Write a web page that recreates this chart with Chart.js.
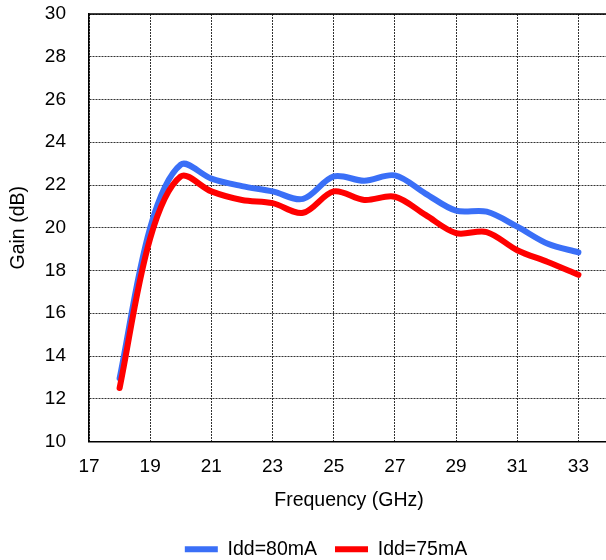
<!DOCTYPE html>
<html>
<head>
<meta charset="utf-8">
<script src="https://cdn.jsdelivr.net/npm/chart.js@4/dist/chart.umd.min.js"></script>
<style>
  html, body { margin: 0; padding: 0; background: #fff; overflow: hidden; }
  #wrap { position: absolute; left: 0; top: 0; width: 652px; height: 560px; }
</style>
</head>
<body>
<div id="wrap"><canvas id="chart" width="652" height="560"></canvas></div>
<script>
// datos
const freq = [18, 19, 20, 21, 22, 23, 24, 25, 26, 27, 28, 29, 30, 31, 32, 33];
const idd80 = [12.95, 20.0, 22.95, 22.3, 21.95, 21.7, 21.35, 22.4, 22.2, 22.45, 21.6, 20.8, 20.75, 20.05, 19.25, 18.85];
const idd75 = [12.5, 19.5, 22.4, 21.7, 21.3, 21.15, 20.7, 21.7, 21.3, 21.45, 20.6, 19.75, 19.8, 18.95, 18.4, 17.8];
const xTicks = [17, 19, 21, 23, 25, 27, 29, 31, 33];
const yTicks = [10, 12, 14, 16, 18, 20, 22, 24, 26, 28, 30];

const family = "'Liberation Sans', Arial, sans-serif";
const tickFont = { family: family, size: 19 };
const titleFont = { family: family, size: 19.5 };

// linea superior solida del area de la grafica
const topBorder = {
  id: "topBorder",
  beforeDatasetsDraw(chart) {
    const { ctx, chartArea } = chart;
    ctx.save();
    ctx.strokeStyle = "#000";
    ctx.lineWidth = 1.5;
    ctx.beginPath();
    ctx.moveTo(chartArea.left, chartArea.top);
    ctx.lineTo(chartArea.right, chartArea.top);
    ctx.stroke();
    ctx.restore();
  },
};

new Chart(document.getElementById("chart"), {
  type: "line",
  data: {
    datasets: [
      {
        label: "Idd=80mA",
        data: freq.map((f, i) => ({ x: f, y: idd80[i] })),
        borderColor: "#3a6ff7",
        backgroundColor: "#3a6ff7",
        borderWidth: 6,
        borderCapStyle: "round",
        borderJoinStyle: "round",
        pointRadius: 0,
        pointStyle: "line",
        tension: 0.33,
        order: 1,
      },
      {
        label: "Idd=75mA",
        data: freq.map((f, i) => ({ x: f, y: idd75[i] })),
        borderColor: "#ff0000",
        backgroundColor: "#ff0000",
        borderWidth: 6,
        borderCapStyle: "round",
        borderJoinStyle: "round",
        pointRadius: 0,
        pointStyle: "line",
        tension: 0.33,
        order: 0,
      },
    ],
  },
  options: {
    responsive: false,
    animation: false,
    layout: { padding: { top: 14, left: 0, right: 0, bottom: -9 } },
    plugins: {
      legend: {
        position: "bottom",
        labels: {
          usePointStyle: true,
          pointStyleWidth: 33,
          padding: 18,
          color: "#000",
          font: titleFont,
          sort: (a, b) => a.datasetIndex - b.datasetIndex,
        },
      },
      tooltip: { enabled: false },
    },
    scales: {
      x: {
        type: "linear",
        min: 17,
        max: 34,
        afterBuildTicks: (s) => { s.ticks = xTicks.map((v) => ({ value: v })); },
        afterFit: (s) => { s.height = 80; },
        grid: { color: "#333", lineWidth: 1, drawTicks: false },
        border: { color: "#000", width: 1.5, dash: [2, 1] },
        ticks: { color: "#000", font: tickFont, padding: 14, maxRotation: 0 },
        title: {
          display: true,
          text: "Frequency (GHz)",
          color: "#000",
          font: titleFont,
          padding: { top: 10, bottom: 9 },
        },
      },
      y: {
        min: 10,
        max: 30,
        afterBuildTicks: (s) => { s.ticks = yTicks.map((v) => ({ value: v })); },
        afterFit: (s) => {
          s.width = 89;
          s.paddingTop = 0;
          s.paddingBottom = 0;
        },
        grid: { color: "#333", lineWidth: 1, drawTicks: false },
        border: { color: "#000", width: 1.5, dash: [2, 1] },
        ticks: { color: "#000", font: tickFont, padding: 23 },
        title: {
          display: true,
          text: "Gain (dB)",
          color: "#000",
          font: titleFont,
          padding: { top: 7, bottom: 10 },
        },
      },
      y2: {
        position: "right",
        grid: { display: false },
        border: { display: false },
        ticks: { display: false },
        afterFit: (s) => { s.width = 43; },
      },
    },
  },
  plugins: [topBorder],
});
</script>
</body>
</html>
